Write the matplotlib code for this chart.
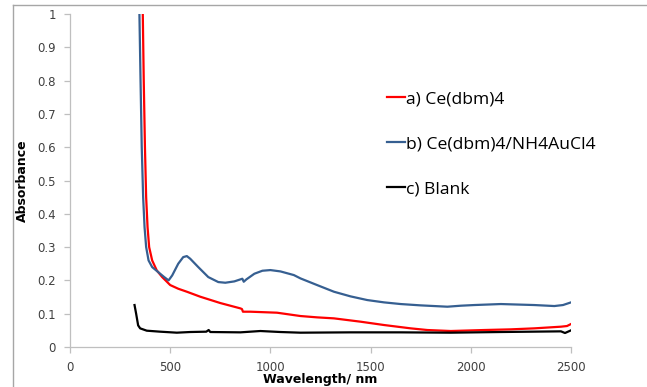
import matplotlib.pyplot as plt
from matplotlib.lines import Line2D

# a) Ce(dbm)4
wl_a = [362, 368, 374, 380, 387, 395, 410, 433, 460, 500, 540, 583, 650, 750, 850, 858, 863, 900,
        1033, 1150, 1233, 1317, 1450, 1567, 1700, 1783, 1900, 2067, 2200, 2317, 2450, 2480, 2500]
abs_a = [1.05, 0.80, 0.60, 0.45, 0.36, 0.30, 0.26, 0.23, 0.21, 0.186, 0.175, 0.166, 0.151, 0.132, 0.116, 0.114, 0.106, 0.106,
         0.103, 0.093, 0.089, 0.086, 0.076, 0.066, 0.056, 0.051, 0.048, 0.051, 0.053, 0.056, 0.061, 0.063, 0.069]

# b) Ce(dbm)4/NH4AuCl4
wl_b = [345, 352, 358, 365, 372, 380, 392, 410, 440, 470, 492, 510, 540, 565, 583, 600, 640, 690, 740, 775,
        820, 850, 860, 867, 880, 920, 960, 1000, 1050, 1117, 1150, 1233, 1317, 1400, 1483, 1567, 1650, 1750,
        1883, 1950, 2017, 2150, 2317, 2417, 2460, 2500]
abs_b = [1.05, 0.80, 0.60, 0.45, 0.36, 0.30, 0.26, 0.24, 0.225, 0.21, 0.20, 0.215, 0.25, 0.27, 0.273, 0.265, 0.24, 0.21, 0.195, 0.193,
         0.197, 0.203, 0.205, 0.196, 0.203, 0.22, 0.229, 0.231, 0.227, 0.216, 0.206, 0.186, 0.166, 0.152, 0.141, 0.134, 0.129, 0.125,
         0.121, 0.124, 0.126, 0.129, 0.126, 0.123, 0.126, 0.134]

# c) Blank
wl_c = [322, 330, 340, 350, 383, 450, 533, 600, 680, 692, 700, 850, 950, 1050, 1150, 1400, 1650, 1900,
        2150, 2450, 2470, 2500]
abs_c = [0.126, 0.10, 0.065, 0.056, 0.049, 0.046, 0.043, 0.045, 0.046, 0.051, 0.045, 0.044, 0.048, 0.045, 0.043, 0.044, 0.044, 0.043,
         0.045, 0.047, 0.042, 0.050]

labels = ["a) Ce(dbm)4", "b) Ce(dbm)4/NH4AuCl4", "c) Blank"]
colors = ["#FF0000", "#365F91", "#000000"]

fig = plt.figure(figsize=(6.47, 3.87), dpi=100)
ax = fig.add_axes([70 / 647, 40 / 387, 501 / 647, 333 / 387])

for wl, ab, c, lab in zip([wl_a, wl_b, wl_c], [abs_a, abs_b, abs_c], colors, labels):
    ax.plot(wl, ab, color=c, linewidth=1.6, label=lab)

ax.set_xlim(0, 2500)
ax.set_ylim(0, 1)
ax.set_xticks([0, 500, 1000, 1500, 2000, 2500])
ax.set_yticks([0, 0.1, 0.2, 0.3, 0.4, 0.5, 0.6, 0.7, 0.8, 0.9, 1])
ax.set_yticklabels(["0", "0.1", "0.2", "0.3", "0.4", "0.5", "0.6", "0.7", "0.8", "0.9", "1"])
for s in ["top", "right"]:
    ax.spines[s].set_visible(False)
for s in ["left", "bottom"]:
    ax.spines[s].set_color("#BFBFBF")
    ax.spines[s].set_linewidth(0.9)
ax.tick_params(colors="#BFBFBF", labelcolor="#404040", labelsize=8.5, length=4, width=0.9, pad=6)

ax.set_ylabel("Absorbance", fontsize=9, fontweight="bold", labelpad=6)
fig.text(320 / 647, 1 / 387, "Wavelength/ nm", ha="center", va="bottom", fontsize=9, fontweight="bold")

handles = [Line2D([], [], color=c, linewidth=1.6) for c in colors]
ax.legend(handles, labels, loc="upper left", bbox_to_anchor=(310 / 501, 1 - 70 / 333),
          frameon=False, handlelength=1.0, handletextpad=0.1, labelspacing=1.65,
          borderaxespad=0, prop={"family": "Open Sans", "size": 12.6})

# figure frame
fig.add_artist(Line2D([13 / 647, 1], [1 - 5 / 387, 1 - 5 / 387], color="#A6A6A6", linewidth=1))
fig.add_artist(Line2D([13 / 647, 13 / 647], [0, 1 - 5 / 387], color="#A6A6A6", linewidth=1))

fig.savefig("out.png", dpi=100)
